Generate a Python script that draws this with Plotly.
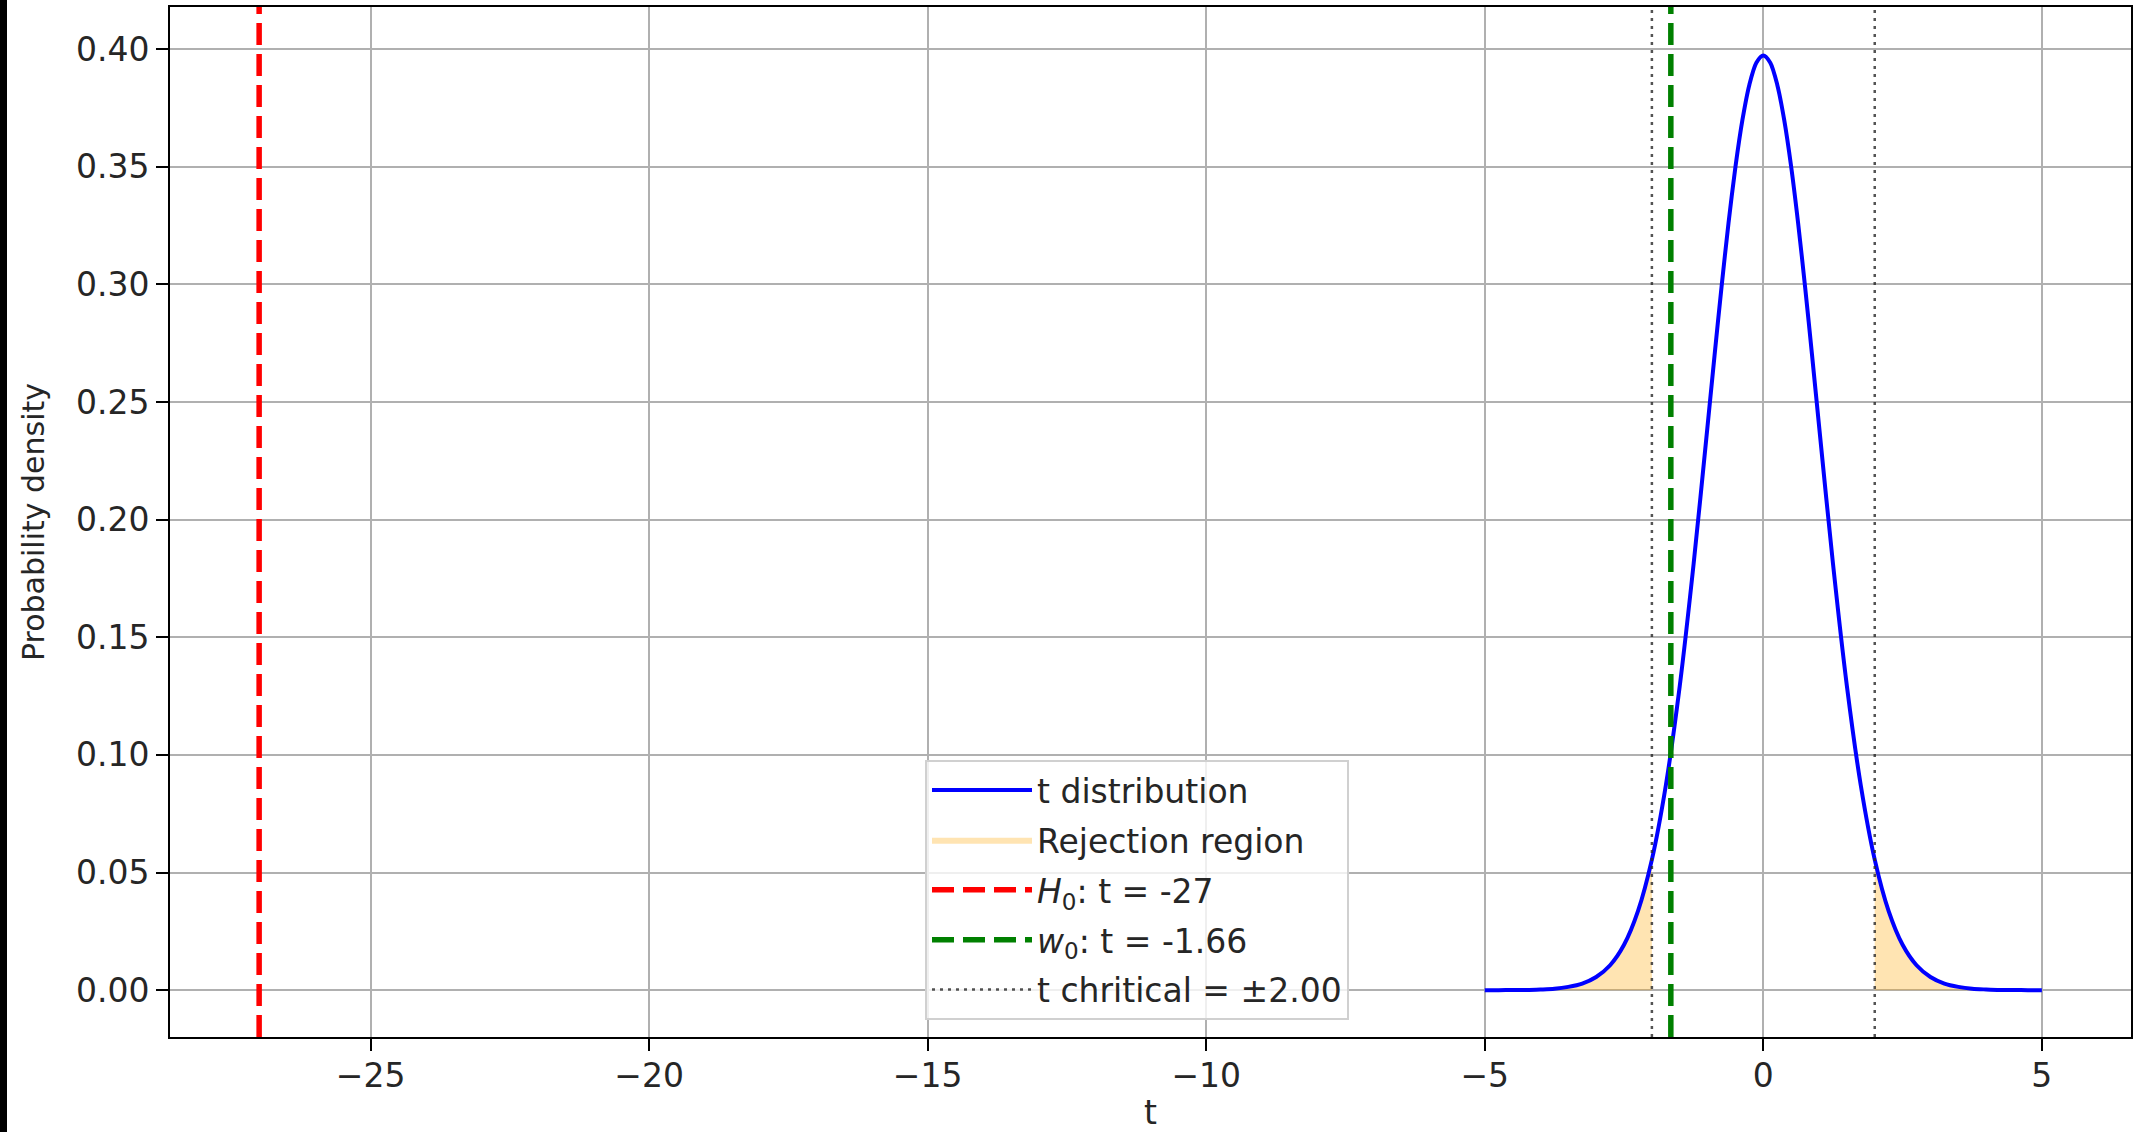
import plotly.graph_objects as go

# ---- data ----
t_grid = [-5.0, -4.75, -4.5, -4.25, -4.0, -3.75, -3.5, -3.25, -3.0, -2.75, -2.5, -2.25, -2.0,
          -1.75, -1.5, -1.25, -1.0, -0.875, -0.75, -0.625, -0.5, -0.375, -0.25, -0.125, 0.0,
          0.125, 0.25, 0.375, 0.5, 0.625, 0.75, 0.875, 1.0, 1.25, 1.5,
          1.75, 2.0, 2.25, 2.5, 2.75, 3.0, 3.25, 3.5, 3.75, 4.0, 4.25, 4.5, 4.75, 5.0]
pdf_vals = [0.0000, 0.0000, 0.0001, 0.0001, 0.0003, 0.0006, 0.0014, 0.0028, 0.0056, 0.0106,
            0.0193, 0.0336, 0.0555, 0.0870, 0.1293, 0.1814, 0.2400, 0.2699, 0.2989, 0.3260,
            0.3500, 0.3699, 0.3849, 0.3942, 0.3973,
            0.3942, 0.3849, 0.3699, 0.3500, 0.3260, 0.2989, 0.2699, 0.2400, 0.1814, 0.1293,
            0.0870, 0.0555, 0.0336, 0.0193, 0.0106, 0.0056, 0.0028, 0.0014, 0.0006, 0.0003,
            0.0001, 0.0001, 0.0000, 0.0000]
t_critical = 2.00
t_h0 = -27
t_w0 = -1.66

x_tick_vals = [-25, -20, -15, -10, -5, 0, 5]
x_tick_text = ["\u221225", "\u221220", "\u221215", "\u221210", "\u22125", "0", "5"]
y_tick_vals = [0.00, 0.05, 0.10, 0.15, 0.20, 0.25, 0.30, 0.35, 0.40]

series_names = ["t distribution", "Rejection region", "<i>H</i><sub>0</sub>: t = -27",
                "<i>w</i><sub>0</sub>: t = -1.66", "t chritical = \u00b12.00"]

# ---- figure ----
FONT = "DejaVu Sans"
FS = 33
W, H = 2141, 1132
ML, MR, MT, MB = 170, 10, 7, 95

left_x = [x for x in t_grid if x <= -t_critical]
left_y = [y for x, y in zip(t_grid, pdf_vals) if x <= -t_critical]
right_x = [x for x in t_grid if x >= t_critical]
right_y = [y for x, y in zip(t_grid, pdf_vals) if x >= t_critical]

fig = go.Figure()
fill_col = "rgba(255,165,0,0.3)"
fig.add_trace(go.Scatter(x=left_x, y=left_y, mode="lines", fill="tozeroy", fillcolor=fill_col,
                         line=dict(width=0, shape="spline", color=fill_col), name=series_names[1],
                         legendgroup="g2", legendrank=2, hoverinfo="skip"))
fig.add_trace(go.Scatter(x=right_x, y=right_y, mode="lines", fill="tozeroy", fillcolor=fill_col,
                         line=dict(width=0, shape="spline", color=fill_col), name=series_names[1],
                         legendgroup="g2", showlegend=False, hoverinfo="skip"))
fig.add_trace(go.Scatter(x=t_grid, y=pdf_vals, mode="lines", name=series_names[0],
                         line=dict(color="#0000ff", width=4, shape="spline", smoothing=0.8),
                         legendgroup="g1", legendrank=1))

line_specs = [
    (t_h0, "#ff0000", 5.5, "22px,9px", series_names[2], "g3", 3),
    (t_w0, "#008000", 5.5, "22px,9px", series_names[3], "g4", 4),
]
for xv, col, wd, dash, nm, grp, rk in line_specs:
    fig.add_shape(type="line", xref="x", yref="y domain", x0=xv, x1=xv, y0=0, y1=1,
                  line=dict(color=col, width=wd, dash=dash), layer="above")
    fig.add_trace(go.Scatter(x=[None], y=[None], mode="lines", name=nm,
                             line=dict(color=col, width=wd, dash=dash), legendgroup=grp, legendrank=rk))

crit_col = "rgba(40,40,40,0.8)"
for xv in (-t_critical, t_critical):
    fig.add_shape(type="line", xref="x", yref="y domain", x0=xv, x1=xv, y0=0, y1=1,
                  line=dict(color=crit_col, width=2.5, dash="3px,5px"), layer="above")
fig.add_trace(go.Scatter(x=[None], y=[None], mode="lines", name=series_names[4],
                         line=dict(color=crit_col, width=2.5, dash="3px,5px"), legendgroup="g5", legendrank=5))

# left black strip present in the reference screenshot
pw = W - ML - MR
ph = H - MT - MB
fig.add_shape(type="rect", xref="paper", yref="paper", x0=-ML / pw - 0.01, x1=(7 - ML) / pw,
              y0=-MB / ph - 0.02, y1=1 + MT / ph + 0.02, fillcolor="black", line=dict(width=0),
              layer="above")

axis_common = dict(showline=True, linecolor="black", linewidth=2, mirror=True,
                   showgrid=True, gridcolor="#b0b0b0", gridwidth=1.5, zeroline=False,
                   ticks="outside", ticklen=12, tickwidth=2, tickcolor="black", automargin=False,
                   tickfont=dict(family=FONT, size=FS, color="#262626"))

fig.update_layout(
    width=W, height=H,
    margin=dict(l=ML, r=MR, t=MT, b=MB, autoexpand=False),
    paper_bgcolor="white", plot_bgcolor="white",
    font=dict(family=FONT, size=FS, color="#262626"),
    showlegend=True,
    legend=dict(x=(925 - ML) / pw, xanchor="left", y=(H - MB - 1020) / ph, yanchor="bottom",
                bgcolor="rgba(255,255,255,0.8)", bordercolor="#d0d0d0", borderwidth=2,
                font=dict(family=FONT, size=FS, color="#262626"), traceorder="grouped",
                tracegroupgap=4, itemwidth=100),
    xaxis=dict(range=[-28.6, 6.6], tickvals=x_tick_vals, ticktext=x_tick_text, ticklabelstandoff=-4,
               title=dict(text="t", font=dict(family=FONT, size=FS, color="#262626"), standoff=14),
               **axis_common),
    yaxis=dict(range=[-0.0199, 0.4179], tickvals=y_tick_vals, tickformat=".2f",
               title=dict(text="Probability density", font=dict(family=FONT, size=30, color="#262626"),
                          standoff=22),
               **axis_common),
)

fig.write_html("out.html", config={"displayModeBar": False},
               post_script="document.body.style.margin='0';document.body.style.overflow='hidden';")
